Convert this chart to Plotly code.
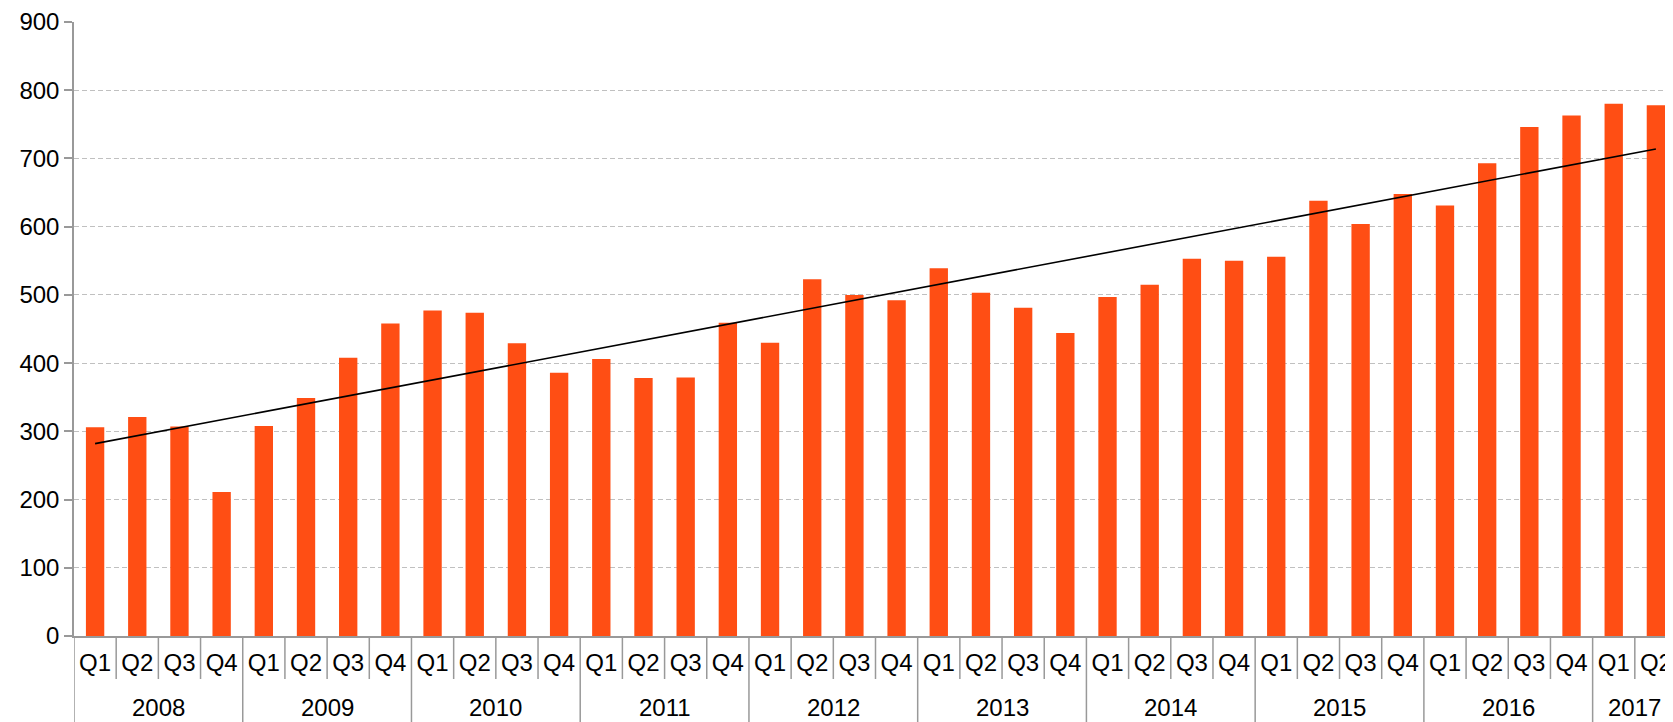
import numpy as np
import plotly.graph_objects as go

anos = ["2008", "2009", "2010", "2011", "2012", "2013", "2014", "2015", "2016", "2017"]
trimestres = ["Q1", "Q2", "Q3", "Q4"]

valores = [
    306, 321, 307, 211,
    308, 349, 408, 458,
    477, 474, 429, 386,
    406, 378, 379, 459,
    430, 523, 500, 492,
    539, 503, 481, 444,
    497, 515, 553, 550,
    556, 638, 604, 648,
    631, 693, 746, 763,
    780, 778,
]

# categorias: ano + trimestre
x_ano = []
x_tri = []
for a in anos:
    for t in trimestres:
        if len(x_ano) < len(valores):
            x_ano.append(a)
            x_tri.append(t)
categorias = [a + " " + t for a, t in zip(x_ano, x_tri)]
n = len(categorias)

# linha de tendência (regressão linear)
idx = np.arange(n)
coef = np.polyfit(idx, valores, 1)
tendencia = np.polyval(coef, idx)

fig = go.Figure()
fig.add_trace(go.Bar(x=categorias, y=valores, marker=dict(color="#FF4E14", line=dict(width=0)),
                     showlegend=False))
fig.add_trace(go.Scatter(x=categorias, y=tendencia, mode="lines",
                         line=dict(color="black", width=1.6), showlegend=False))

fonte = dict(family="Liberation Sans, Arial, sans-serif", size=24, color="black")
cinza = "#999999"

topo = 14
altura_plot = 714 - topo - 86
sep_curto = -43 / altura_plot
sep_longo = -86 / altura_plot

# separadores entre trimestres e entre anos
for i in range(n):
    fim_ano = (i == n - 1) or (x_ano[i + 1] != x_ano[i])
    fig.add_shape(type="line", xref="x", yref="paper", x0=i + 0.5, x1=i + 0.5,
                  y0=0, y1=sep_longo if fim_ano else sep_curto,
                  line=dict(color=cinza, width=1.5))
fig.add_shape(type="line", xref="x", yref="paper", x0=-0.5, x1=-0.5, y0=0, y1=sep_longo,
              line=dict(color=cinza, width=1.5))

# rótulos dos anos
for a in anos:
    pos = [i for i in range(n) if x_ano[i] == a]
    fig.add_annotation(x=sum(pos) / len(pos), y=0, xref="x", yref="paper", text=a,
                       showarrow=False, yshift=-71, yanchor="middle", font=fonte)

# a página tem 8px de margem no body, por isso descontamos aqui
fig.update_layout(
    width=1669, height=714,
    margin=dict(l=66, r=0, t=topo, b=86, autoexpand=False),
    plot_bgcolor="white", paper_bgcolor="white",
    bargap=0.565,
    font=fonte,
)
fig.update_yaxes(range=[0, 900], dtick=100, showgrid=True, gridcolor="#C0C0C0", griddash="5px,3px",
                 gridwidth=1.3, showline=True, linecolor=cinza, linewidth=1.5,
                 ticks="outside", ticklen=8, tickcolor=cinza, tickwidth=1.5, zeroline=False,
                 tickfont=fonte, automargin=False, ticklabeloverflow="allow")
fig.update_xaxes(type="category", range=[-0.5, n - 0.5], tickmode="array", tickvals=categorias,
                 ticktext=x_tri, showline=True, linecolor=cinza, linewidth=1.5, ticks="",
                 showgrid=False, tickfont=fonte, automargin=False, ticklabelstandoff=4,
                 ticklabeloverflow="allow")

fig.write_html("out.html")
